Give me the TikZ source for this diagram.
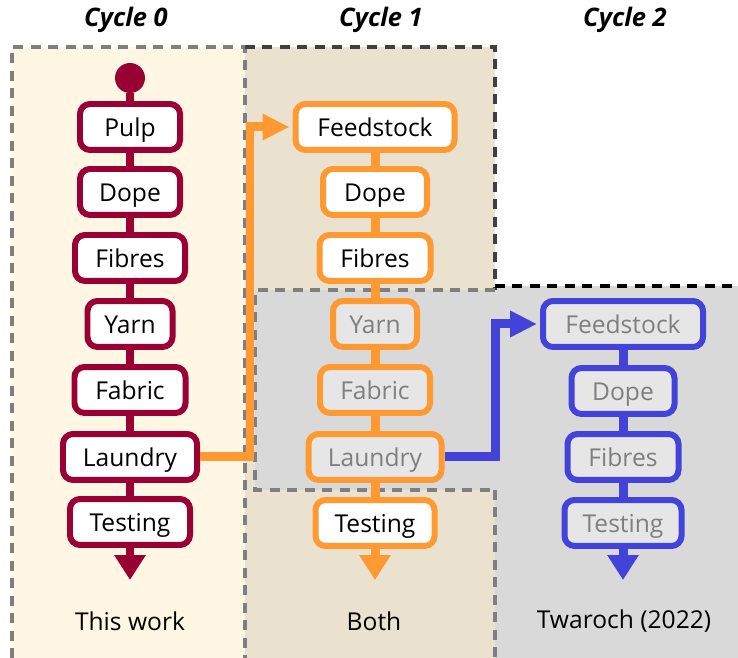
\documentclass[tikz,border=0pt]{standalone}
\usepackage{fontspec}
\setmainfont{Open Sans}
\usepackage{tikz}
\usetikzlibrary{arrows.meta,positioning}
\definecolor{crimson}{HTML}{990033}
\definecolor{tangerine}{HTML}{FF9A33}
\definecolor{violetblue}{HTML}{4343D9}
\definecolor{cream}{HTML}{FFF6E4}
\definecolor{sand}{HTML}{EAE2CF}
\definecolor{greyzone}{HTML}{D9D9D9}
\definecolor{pale}{HTML}{E6E6E6}
\definecolor{dim}{HTML}{7F7F7F}

\begin{document}
\begin{tikzpicture}[
x=0.02cm, y=-0.02cm,
font=\fontsize{14}{16}\selectfont,
stage/.style={draw, line width=0.12cm, rounded corners=0.2cm, fill=white, inner sep=0pt, text height=0.42cm, text depth=0.02cm, minimum height=0.92cm, minimum width=#1*0.02cm},
faded/.style={fill=pale, text=dim},
link/.style={line width=0.18cm},
flow/.style={line width=0.18cm, shorten >=0.06cm, -{Triangle[width=0.5cm,length=0.54cm]}},
tail/.style={line width=0.18cm, -{Triangle[width=0.6cm,length=0.5cm]}},
frame/.style={line width=0.07cm, dash pattern=on 0.2cm off 0.15cm},
title/.style={font=\fontsize{14.5}{16}\selectfont\bfseries\itshape}
]
\useasboundingbox (0,0) rectangle (738,658);

% Draw regions
\fill [cream] (12,47) rectangle (245,658);
\fill [sand] (245,47) rectangle (495,658);
\fill [greyzone] (495,286) rectangle (738,658);
\fill [greyzone] (255,290) rectangle (495,490);
\draw[frame, dim] (12,658) -- (12,47) -- (245,47) -- (245,658);
\draw[frame, black!75] (245,47) -- (495,47) -- (495,290);
\draw[frame, dim] (495,490) -- (495,658);
\draw[frame, black] (495,286) -- (738,286);
\draw[frame, dim] (495,290) -- (255,290) -- (255,490) -- (495,490);

% Titles
\node[title] (cycle0) at (126,20) {Cycle 0};
\node[title] (cycle1) at (381,20) {Cycle 1};
\node[title] (cycle2) at (625,20) {Cycle 2};

\draw
(130,580) coordinate (end0)
(375,580) coordinate (end1)
(623,580) coordinate (end2);

% Cycle 0
\node[circle, fill=crimson, inner sep=0pt, minimum size=0.6cm] (start) at (130,78) {};
\node[stage=100, draw=crimson] (pulp0) at (130,127) {Pulp};
\node[stage=100, draw=crimson] (dope0) at (130,192) {Dope};
\node[stage=110, draw=crimson] (fibres0) at (130,258) {Fibres};
\node[stage=85, draw=crimson] (yarn0) at (130,324) {Yarn};
\node[stage=111, draw=crimson] (fabric0) at (130,390) {Fabric};
\node[stage=134, draw=crimson] (laundry0) at (130,457) {Laundry};
\node[stage=120, draw=crimson] (testing0) at (130,522) {Testing};
\draw[link, crimson] (start) -- (pulp0);
\draw[link, crimson] (pulp0) -- (dope0);
\draw[link, crimson] (dope0) -- (fibres0);
\draw[link, crimson] (fibres0) -- (yarn0);
\draw[link, crimson] (yarn0) -- (fabric0);
\draw[link, crimson] (fabric0) -- (laundry0);
\draw[link, crimson] (laundry0) -- (testing0);
\draw[tail, crimson] (testing0) -- (end0);

% Cycle 1
\node[stage=159, draw=tangerine] (feedstock1) at (375,127) {Feedstock};
\node[stage=104, draw=tangerine] (dope1) at (375,192) {Dope};
\node[stage=111, draw=tangerine] (fibres1) at (375,258) {Fibres};
\node[stage=84, draw=tangerine, faded] (yarn1) at (375,324) {Yarn};
\node[stage=110, draw=tangerine, faded] (fabric1) at (375,390) {Fabric};
\node[stage=133, draw=tangerine, faded] (laundry1) at (375,457) {Laundry};
\node[stage=119, draw=tangerine] (testing1) at (375,523) {Testing};
\draw[link, tangerine] (feedstock1) -- (dope1);
\draw[link, tangerine] (dope1) -- (fibres1);
\draw[link, tangerine] (fibres1) -- (yarn1);
\draw[link, tangerine] (yarn1) -- (fabric1);
\draw[link, tangerine] (fabric1) -- (laundry1);
\draw[link, tangerine] (laundry1) -- (testing1);
\draw[tail, tangerine] (testing1) -- (end1);
\draw[flow, tangerine] (laundry0.east) -- ++(50,0) |- (feedstock1.west);

% Cycle 2
\node[stage=160, draw=violetblue, faded] (feedstock2) at (623,324) {Feedstock};
\node[stage=103, draw=violetblue, faded] (dope2) at (623,391) {Dope};
\node[stage=111, draw=violetblue, faded] (fibres2) at (623,457) {Fibres};
\node[stage=117, draw=violetblue, faded] (testing2) at (623,523) {Testing};
\draw[link, violetblue] (feedstock2) -- (dope2);
\draw[link, violetblue] (dope2) -- (fibres2);
\draw[link, violetblue] (fibres2) -- (testing2);
\draw[tail, violetblue] (testing2) -- (end2);
\draw[flow, violetblue] (laundry1.east) -- ++(51,0) |- (feedstock2.west);

% Sources
\node (source0) at (130,621) {This work};
\node (source1) at (374,621) {Both};
\node (source2) at (624,621) {Twaroch (2022)};
\end{tikzpicture}
\end{document}
